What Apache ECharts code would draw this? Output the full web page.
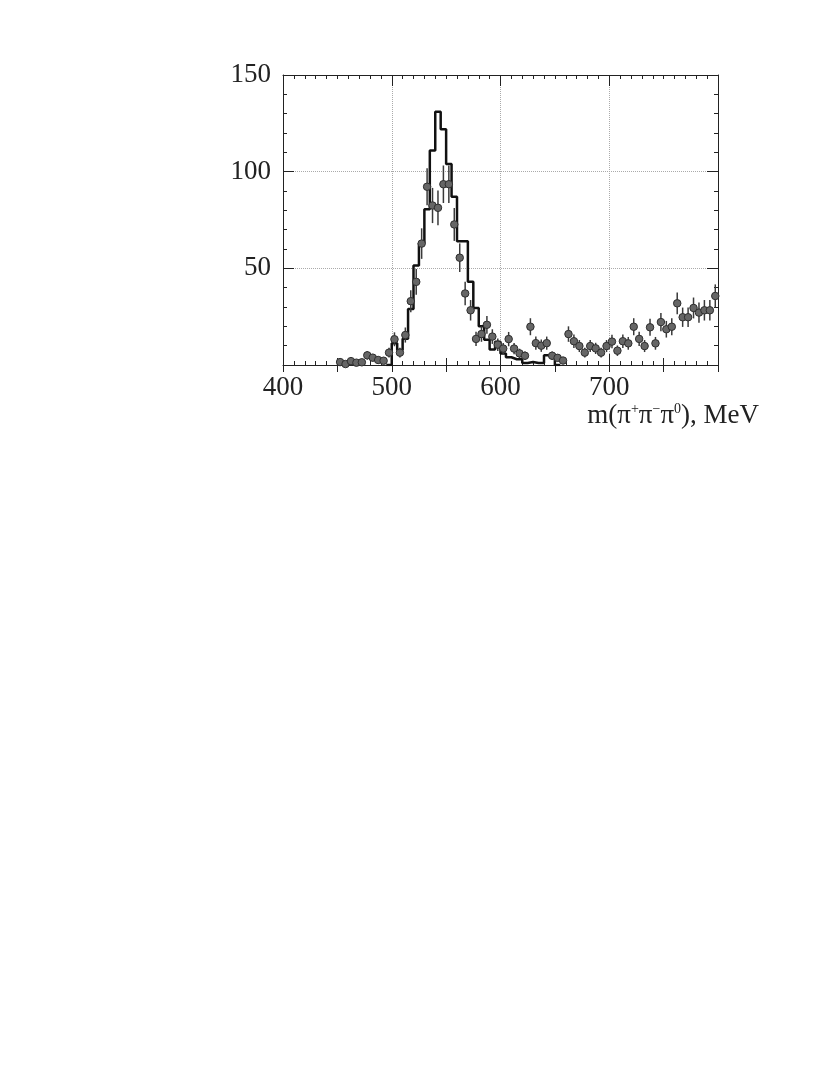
<!DOCTYPE html>
<html>
<head>
<meta charset="utf-8">
<script src="https://cdn.jsdelivr.net/npm/echarts@6/dist/echarts.min.js"></script>
<style>
  html, body { margin: 0; padding: 0; background: #fff; }
  #chart { width: 830px; height: 1075px; }
</style>
</head>
<body>
<div id="chart"></div>
<script>
// data points, bin centres (MeV)
const massCenters = [
  452.5, 457.5, 462.5, 467.5, 472.5, 477.5, 482.5, 487.5, 492.5, 497.5,
  502.5, 507.5, 512.5, 517.5, 522.5, 527.5, 532.5, 537.5, 542.5, 547.5,
  552.5, 557.5, 562.5, 567.5, 572.5, 577.5, 582.5, 587.5, 592.5, 597.5,
  602.5, 607.5, 612.5, 617.5, 622.5, 627.5, 632.5, 637.5, 642.5, 647.5,
  652.5, 657.5, 662.5, 667.5, 672.5, 677.5, 682.5, 687.5, 692.5, 697.5,
  702.5, 707.5, 712.5, 717.5, 722.5, 727.5, 732.5, 737.5, 742.5, 747.5,
  752.5, 757.5, 762.5, 767.5, 772.5, 777.5, 782.5, 787.5, 792.5, 797.5
];
const counts = [
  1.5, 0.5, 2, 1.2, 1.4, 5, 3.8, 2.6, 2.2, 6.4,
  13.3, 6.4, 15.5, 33, 43, 62.8, 92.2, 82.5, 81.3, 93.5,
  93.5, 72.7, 55.5, 37, 28.3, 13.5, 16, 20.8, 14.7, 10.5,
  8.5, 13.4, 8.5, 6, 4.8, 19.8, 11.3, 10, 11.3, 4.8,
  3.7, 2.3, 16, 12.3, 9.8, 6.4, 9.8, 8.6, 6.4, 9.8,
  12.1, 7.4, 12.3, 11.2, 19.8, 13.5, 9.8, 19.5, 11.2, 22.2,
  18.5, 19.8, 31.9, 24.7, 24.7, 29.5, 27.1, 28.3, 28.3, 35.7
];
const countErrors = [
  1.2, 0.7, 1.4, 1.1, 1.2, 2.2, 1.9, 1.6, 1.5, 2.5,
  3.6, 2.5, 3.9, 5.7, 6.6, 7.9, 9.6, 9.1, 9.0, 9.7,
  9.7, 8.5, 7.4, 6.1, 5.3, 3.7, 4.0, 4.6, 3.8, 3.2,
  2.9, 3.7, 2.9, 2.4, 2.2, 4.4, 3.4, 3.2, 3.4, 2.2,
  1.9, 1.5, 4.0, 3.5, 3.1, 2.5, 3.1, 2.9, 2.5, 3.1,
  3.5, 2.7, 3.5, 3.3, 4.4, 3.7, 3.1, 4.4, 3.3, 4.7,
  4.3, 4.4, 5.6, 5.0, 5.0, 5.4, 5.2, 5.3, 5.3, 6.0
];

// simulation histogram, left bin edges (MeV)
const histEdges = [
  495, 500, 505, 510, 515, 520, 525, 530, 535, 540, 545, 550, 555, 560, 565, 570,
  575, 580, 585, 590, 595, 600, 605, 610, 615, 620, 625, 630, 635, 640, 645, 650, 655
];
const histCounts = [
  0, 11.2, 7.8, 13.6, 29, 51.5, 63, 80.5, 111, 131, 122, 104, 87, 64, 64, 43,
  29.5, 20, 13, 8, 12, 6, 4, 3, 3, 1, 1.5, 1, 1, 5, 5, 0, 0
];

const xLabels = [400, 500, 600, 700];
const yLabels = [50, 100, 150];

const FONT = 'Liberation Serif';
const INK = '#222';

var myChart = echarts.init(document.getElementById('chart'));

var pointData = massCenters.map(function (m, i) { return [m, counts[i]]; });
var errData = massCenters.map(function (m, i) {
  return [m, counts[i] - countErrors[i], counts[i] + countErrors[i]];
});
var histData = histEdges.map(function (e, i) { return [e, histCounts[i]]; });

function tickAxis(extra) {
  return Object.assign({
    type: 'value',
    min: 400,
    max: 800,
    axisLine: { show: false },
    axisTick: { show: true, inside: true, length: 7, lineStyle: { color: INK } },
    axisLabel: { show: false },
    splitLine: { show: false }
  }, extra);
}

var option = {
  animation: false,
  backgroundColor: '#fff',
  grid: { left: 283, right: 112, top: 75, bottom: 710 },
  xAxis: [
    {
      type: 'value',
      min: 400,
      max: 800,
      interval: 100,
      position: 'bottom',
      axisLine: { show: true, onZero: false, lineStyle: { color: INK, width: 1 } },
      axisTick: { inside: true, length: 11, lineStyle: { color: INK } },
      minorTick: { show: true, splitNumber: 10, length: 4, lineStyle: { color: INK } },
      axisLabel: {
        margin: 9,
        fontFamily: FONT,
        fontSize: 27,
        color: INK,
        formatter: function (v) { return xLabels.indexOf(v) >= 0 ? String(v) : ''; }
      },
      splitLine: { show: true, lineStyle: { type: 'dotted', color: '#aaa', width: 1 } }
    },
    tickAxis({ interval: 50, position: 'bottom' }),
    tickAxis({
      interval: 100,
      position: 'top',
      axisLine: { show: true, onZero: false, lineStyle: { color: INK, width: 1 } },
      axisTick: { inside: true, length: 11, lineStyle: { color: INK } },
      minorTick: { show: true, splitNumber: 10, length: 4, lineStyle: { color: INK } }
    }),
    tickAxis({ interval: 50, position: 'top' })
  ],
  yAxis: [
    {
      type: 'value',
      min: 0,
      max: 150,
      interval: 50,
      position: 'left',
      axisLine: { show: true, onZero: false, lineStyle: { color: INK, width: 1 } },
      axisTick: { inside: true, length: 11, lineStyle: { color: INK } },
      minorTick: { show: true, splitNumber: 5, length: 4, lineStyle: { color: INK } },
      axisLabel: {
        margin: 12,
        fontFamily: FONT,
        fontSize: 27,
        color: INK,
        formatter: function (v) { return yLabels.indexOf(v) >= 0 ? String(v) : ''; }
      },
      splitLine: { show: true, lineStyle: { type: 'dotted', color: '#aaa', width: 1 } }
    },
    {
      type: 'value',
      min: 0,
      max: 150,
      interval: 50,
      position: 'right',
      axisLine: { show: true, onZero: false, lineStyle: { color: INK, width: 1 } },
      axisTick: { inside: true, length: 11, lineStyle: { color: INK } },
      minorTick: { show: true, splitNumber: 5, length: 4, lineStyle: { color: INK } },
      axisLabel: { show: false },
      splitLine: { show: false }
    }
  ],
  graphic: [
    {
      type: 'text',
      right: 71,
      top: 402,
      style: {
        text: 'm(π{sp|+}π{sp|−}π{sp|0}), MeV',
        font: '27px "Liberation Serif"',
        fill: INK,
        rich: {
          sp: { fontSize: 14, fontFamily: FONT, lineHeight: 15, verticalAlign: 'top', fill: INK }
        }
      }
    }
  ],
  series: [
    {
      // simulated histogram
      type: 'line',
      xAxisIndex: 0,
      yAxisIndex: 0,
      step: 'end',
      data: histData,
      showSymbol: false,
      lineStyle: { color: '#111', width: 2.5 },
      z: 2
    },
    {
      // error bars
      type: 'custom',
      xAxisIndex: 0,
      yAxisIndex: 0,
      data: errData,
      encode: { x: 0, y: [1, 2] },
      renderItem: function (params, api) {
        var lo = api.coord([api.value(0), Math.max(api.value(1), 0)]);
        var hi = api.coord([api.value(0), api.value(2)]);
        return {
          type: 'line',
          shape: { x1: lo[0], y1: lo[1], x2: hi[0], y2: hi[1] },
          style: { stroke: '#3a3a3a', lineWidth: 1.5 }
        };
      },
      z: 3
    },
    {
      // data points
      type: 'scatter',
      xAxisIndex: 0,
      yAxisIndex: 0,
      data: pointData,
      symbol: 'circle',
      symbolSize: 7.5,
      itemStyle: { color: '#666', borderColor: '#2e2e2e', borderWidth: 1, opacity: 1 },
      z: 4
    }
  ]
};

myChart.setOption(option);
</script>
</body>
</html>
